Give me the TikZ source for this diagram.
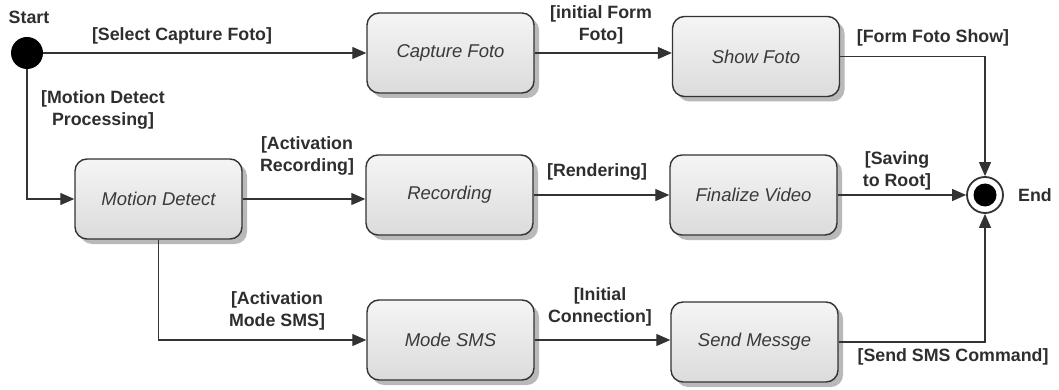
\documentclass[tikz,border=0pt]{standalone}
\usepackage{fontspec}
\setmainfont{Liberation Sans}
\usetikzlibrary{arrows.meta,shadows,calc}
\definecolor{linec}{HTML}{333333}
\definecolor{boxtxt}{HTML}{3A3A3A}
\tikzset{
  x=1pt, y=-1pt,
  state/.style={draw=linec, line width=1.4pt, rounded corners=12pt,
    minimum width=167pt, minimum height=80pt, inner sep=0pt,
    top color=gray!8, bottom color=gray!28,
    drop shadow={shadow xshift=5pt, shadow yshift=-5pt, fill=gray!55, opacity=1},
    font=\fontsize{18.5}{22}\selectfont\itshape, text=boxtxt},
  guard/.style={font=\fontsize{17.8}{22}\selectfont\bfseries, align=center, inner sep=0pt, text=black!82},
  flow/.style={draw=linec, line width=1.2pt, -{Triangle[length=14pt,width=12pt]}},
}
\begin{document}
\begin{tikzpicture}
\useasboundingbox (0,0) rectangle (1059,390);

% initial and final states
\node[circle, fill=black, minimum size=32pt, inner sep=0pt] (start) at (27,53) {};
\node[circle, draw=linec, line width=1.8pt, fill=white, minimum size=36pt, inner sep=0pt] (end) at (985,195) {};
\fill[black] (end.center) circle (11.5pt);

% activity states
\node[state] (cap)  at (450.5,53)  {Capture Foto};
\node[state] (show) at (756,56.5)  {Show Foto};
\node[state] (md)   at (158.5,199) {Motion Detect};
\node[state] (rec)  at (449.5,195) {Recording};
\node[state] (fin)  at (753.5,195) {Finalize Video};
\node[state] (msms) at (450.5,340) {Mode SMS};
\node[state] (send) at (754.5,342) {Send Messge};

% transitions
\draw[flow] (start) -- (cap.west);
\draw[flow] (cap.east) -- (cap.east -| show.west);
\draw[flow] (show.east) -| (end.north);
\draw[flow] (start.south) |- (md.west);
\draw[flow] (md.east) -- (md.east -| rec.west);
\draw[flow] (rec.east) -- (fin.west);
\draw[flow] (fin.east) -- (end.west);
\draw[flow] (md.south) |- (msms.west);
\draw[flow] (msms.east) -- (msms.east -| send.west);
\draw[flow] (send.east) -| (end.south);

% labels
\node[guard] (lstart) at (29,17) {Start};
\node[guard] (lend) at (1035,195) {End};
\node[guard] (g1) at (182,36) {[Select Capture Foto]};
\node[guard] (g2) at (601,25) {[initial Form\\Foto]};
\node[guard] (g3) at (933,38) {[Form Foto Show]};
\node[guard] (g4) at (103,110) {[Motion Detect\\Processing]};
\node[guard] (g5) at (307,156) {[Activation\\Recording]};
\node[guard] (g6) at (597,172) {[Rendering]};
\node[guard] (g7) at (897,171) {[Saving\\to Root]};
\node[guard] (g8) at (277,311) {[Activation\\Mode SMS]};
\node[guard] (g9) at (600,307) {[Initial\\Connection]};
\node[guard] (g10) at (953,357) {[Send SMS Command]};
\end{tikzpicture}
\end{document}
